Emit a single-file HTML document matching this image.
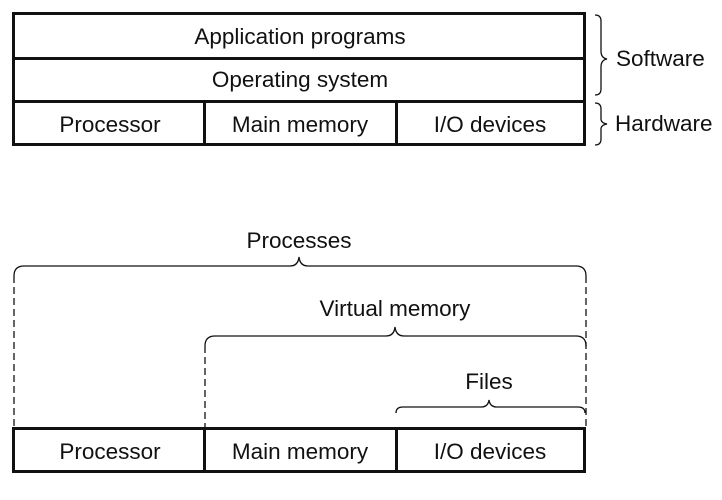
<!DOCTYPE html>
<html><head><style>
body{margin:0;background:#fff;}
svg text{font-family:"Liberation Sans",Arial,sans-serif;font-size:22.5px;fill:#111;}
</style></head><body>
<svg width="722" height="495" viewBox="0 0 722 495" xmlns="http://www.w3.org/2000/svg">
<g fill="none" stroke="#111" stroke-width="3">
<rect x="13.5" y="13.5" width="571" height="131"/>
<line x1="13" y1="58.5" x2="585" y2="58.5"/>
<line x1="13" y1="101.5" x2="585" y2="101.5"/>
<line x1="204.5" y1="101" x2="204.5" y2="145"/>
<line x1="396.5" y1="101" x2="396.5" y2="145"/>
<rect x="13.5" y="428.5" width="571" height="43"/>
<line x1="204.5" y1="428" x2="204.5" y2="472"/>
<line x1="396.5" y1="428" x2="396.5" y2="472"/>
</g>
<g fill="none" stroke="#111" stroke-width="1.3">
<path d="M595,15 q6,0 6,6 v30 q0,7 6,8 q-6,1 -6,8 v22 q0,6 -6,6"/>
<path d="M595,103 q6,0 6,6 v10 q0,4 6,5 q-6,1 -6,5 v10 q0,6 -6,6"/>
<path d="M14,276 q0,-10 10,-10 h266 q8,0 9,-9 q1,9 9,9 h268 q10,0 10,10"/>
<path d="M205,346 q0,-10 10,-10 h171 q8,0 9,-9 q1,9 9,9 h172 q10,0 10,10"/>
<path d="M396,413 q0,-6 7,-6 h78 q7,0 8,-7 q1,7 8,7 h81 q7,0 7,6"/>
</g>
<g fill="none" stroke="#111" stroke-width="1.3" stroke-dasharray="7,4">
<line x1="14" y1="276" x2="14" y2="427"/>
<line x1="586" y1="276" x2="586" y2="427"/>
<line x1="205" y1="346" x2="205" y2="427"/>
</g>
<text x="300" y="44" text-anchor="middle">Application programs</text>
<text x="300" y="87" text-anchor="middle">Operating system</text>
<text x="110" y="132" text-anchor="middle">Processor</text>
<text x="300" y="132" text-anchor="middle">Main memory</text>
<text x="490" y="132" text-anchor="middle">I/O devices</text>
<text x="616" y="66">Software</text>
<text x="615" y="131">Hardware</text>
<text x="299" y="248" text-anchor="middle">Processes</text>
<text x="395" y="316" text-anchor="middle">Virtual memory</text>
<text x="489" y="389" text-anchor="middle">Files</text>
<text x="110" y="459" text-anchor="middle">Processor</text>
<text x="300" y="459" text-anchor="middle">Main memory</text>
<text x="490" y="459" text-anchor="middle">I/O devices</text>
</svg>
</body></html>
